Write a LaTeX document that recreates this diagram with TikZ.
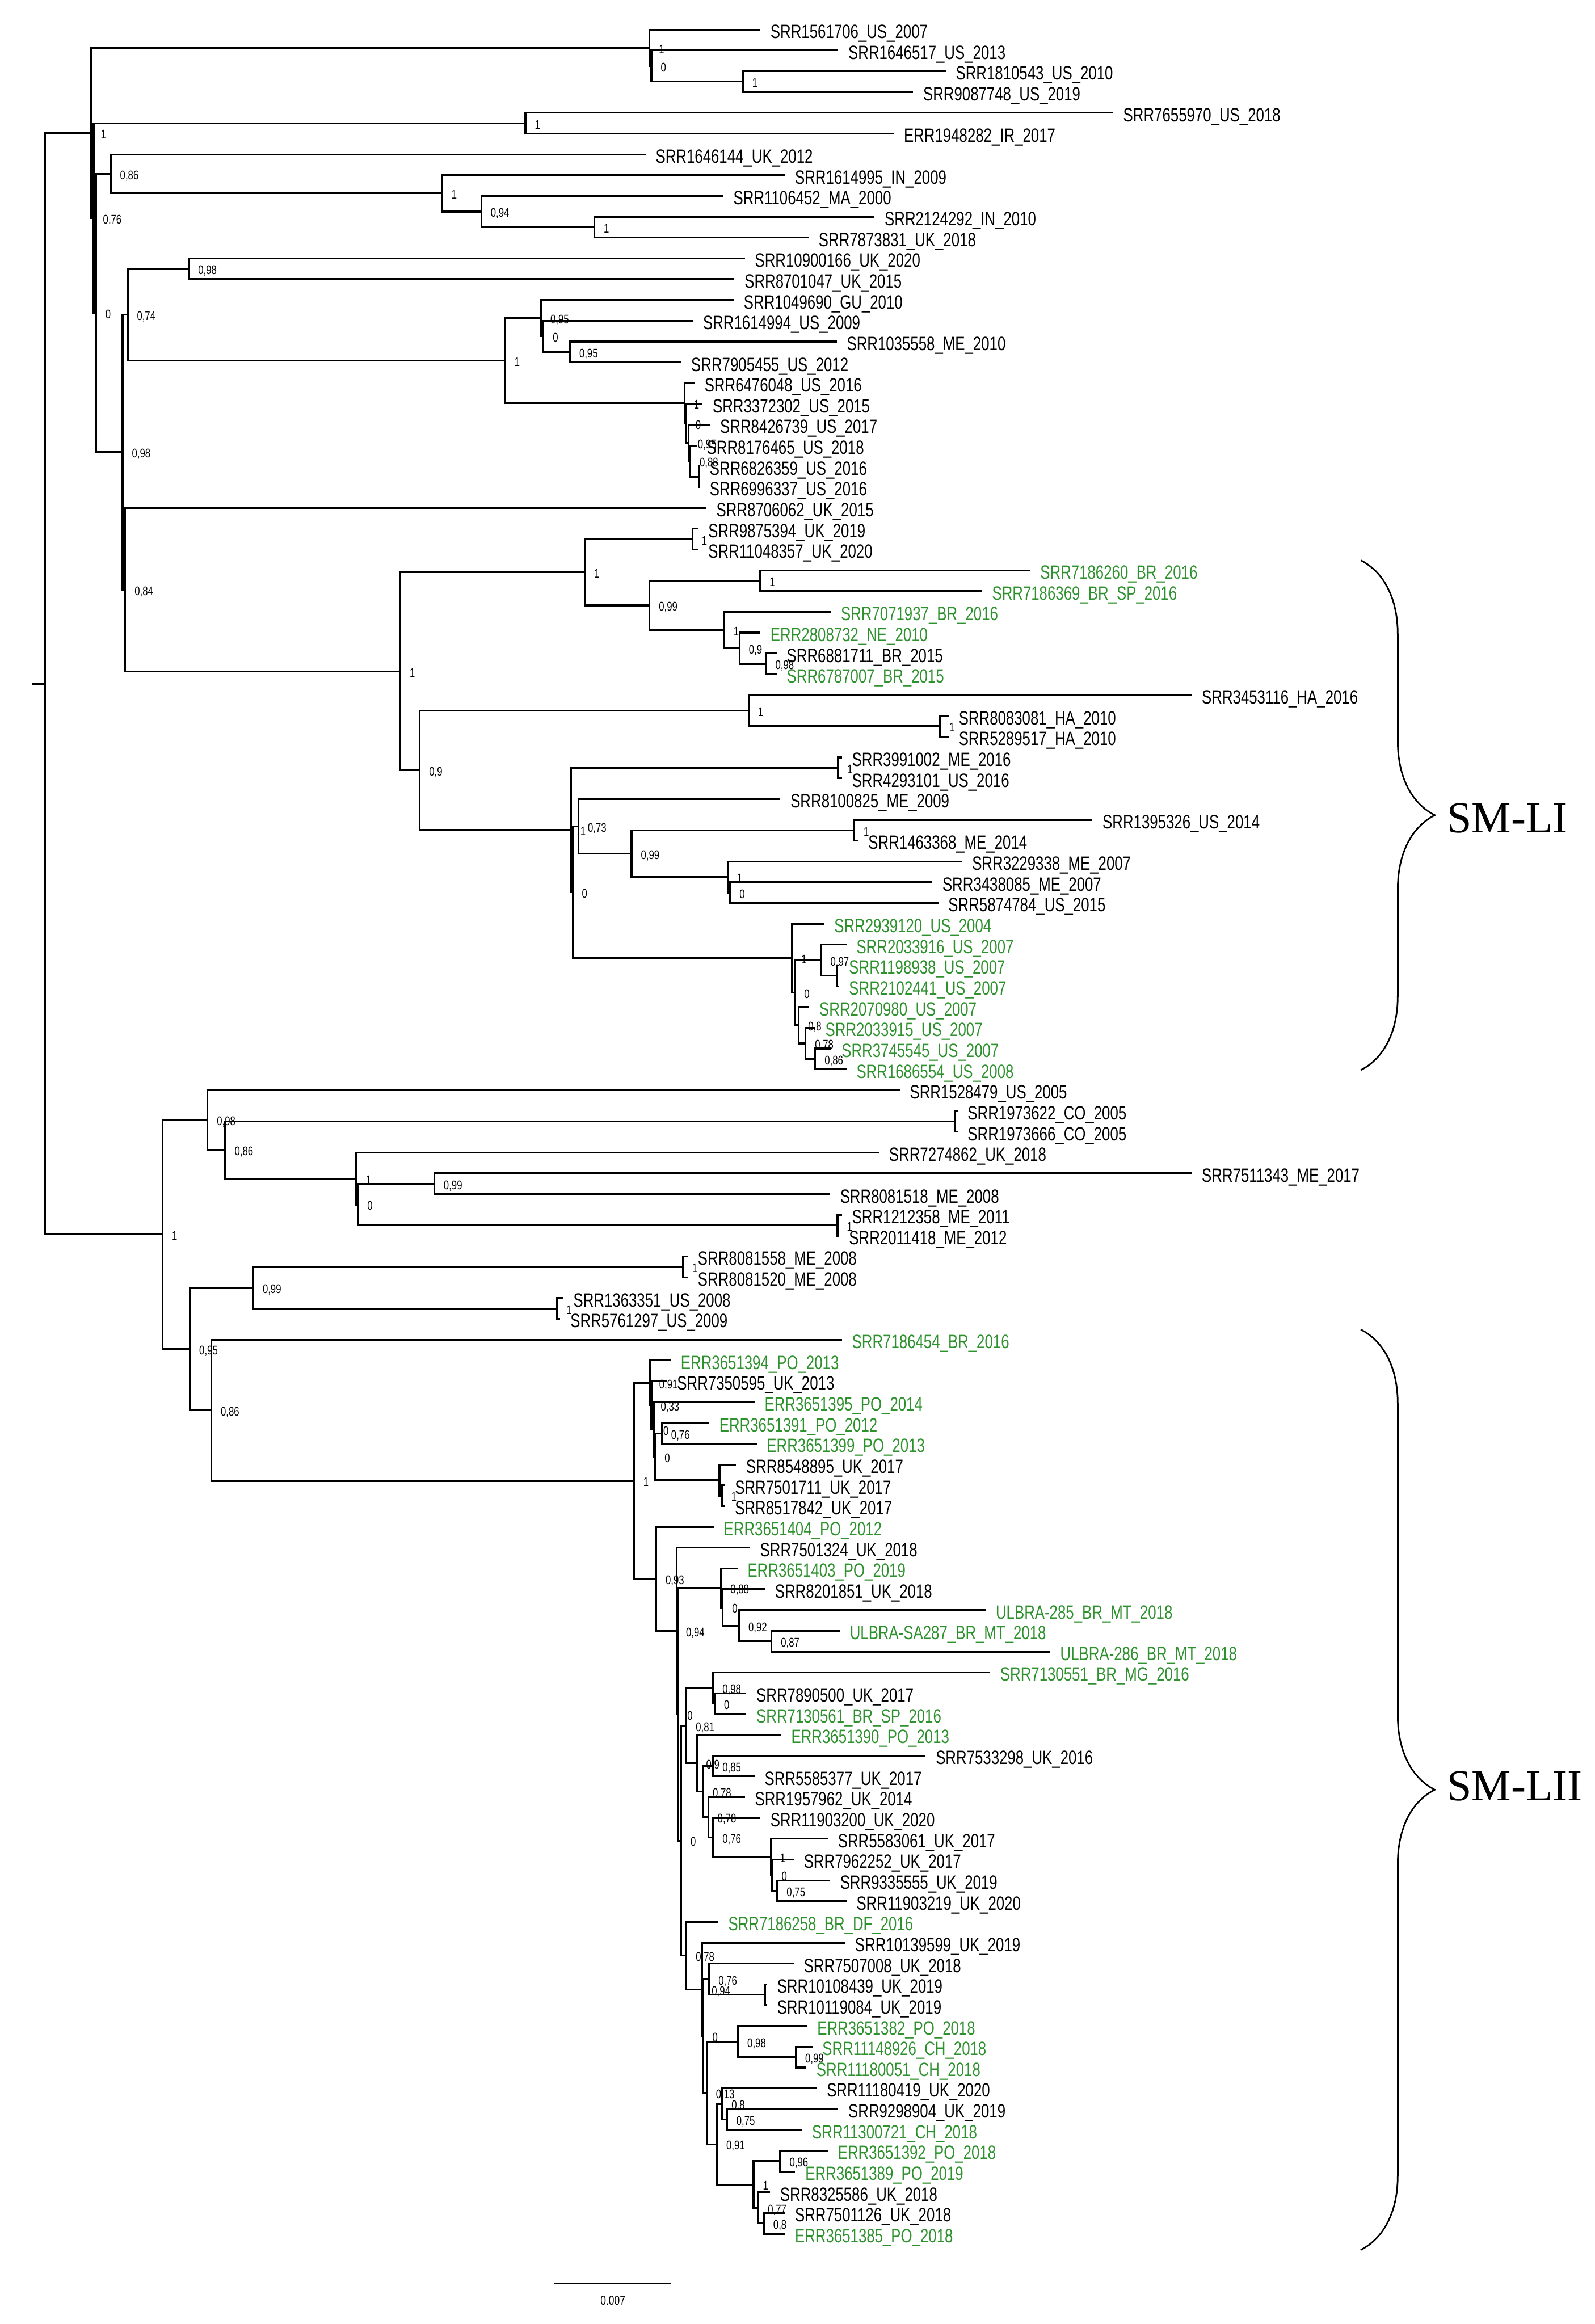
\documentclass[tikz,border=0pt]{standalone}
\usepackage{fontspec}
\setmainfont{Liberation Sans}
\newfontfamily\treefont[FakeStretch=0.76]{Liberation Sans}
\newfontfamily\groupfont{Liberation Serif}
\usetikzlibrary{calc,decorations.pathreplacing}
\definecolor{sgreen}{RGB}{45,145,45}

\tikzset{
  branch/.style={line width=0.7pt},
  leaf/.style={anchor=west, inner xsep=1.3mm, inner ysep=0pt, text height=6.7pt, text depth=0pt,
    font=\treefont\fontsize{7.4}{8}\selectfont},
  support/.style={anchor=west, inner xsep=1.2mm, inner ysep=0pt, text height=4.3pt, text depth=0pt,
    font=\treefont\fontsize{4.8}{5}\selectfont},
  scalelab/.style={inner sep=0pt, font=\treefont\fontsize{5}{6}\selectfont},
  grouplab/.style={anchor=west, inner sep=0pt, font=\groupfont\fontsize{17}{20}\selectfont},
  bracket/.style={line width=0.6pt, decorate, decoration={brace, amplitude=10mm}}
}

% clade: name, x, first child, last child, support value
\newcommand{\clade}[5]{%
  \coordinate (mid) at ($(#3)!.5!(#4)$);
  \coordinate (xref) at (#2,0);
  \coordinate (#1) at (xref |- mid);
  \draw[branch] (#3) -| (#1) |- (#4);
  \node[support] (#1lab) at (#1) {#5};
}

\begin{document}
\begin{tikzpicture}[x=0.2mm, y=-0.2mm]
\useasboundingbox (0,0) rectangle (1076,1568);

\foreach \tip/\col/\txt [count=\i] in {
  513/black/SRR1561706\_US\_2007, 565.5/black/SRR1646517\_US\_2013,
  638/black/SRR1810543\_US\_2010, 616/black/SRR9087748\_US\_2019,
  751/black/SRR7655970\_US\_2018, 603/black/ERR1948282\_IR\_2017,
  435.5/black/SRR1646144\_UK\_2012, 529.5/black/SRR1614995\_IN\_2009,
  488/black/SRR1106452\_MA\_2000, 590/black/SRR2124292\_IN\_2010,
  545.5/black/SRR7873831\_UK\_2018, 502.5/black/SRR10900166\_UK\_2020,
  495.5/black/SRR8701047\_UK\_2015, 495/black/SRR1049690\_GU\_2010,
  467.5/black/SRR1614994\_US\_2009, 564.5/black/SRR1035558\_ME\_2010,
  459.5/black/SRR7905455\_US\_2012, 468.5/black/SRR6476048\_US\_2016,
  474/black/SRR3372302\_US\_2015, 479/black/SRR8426739\_US\_2017,
  470/black/SRR8176465\_US\_2018, 472/black/SRR6826359\_US\_2016,
  472/black/SRR6996337\_US\_2016, 476.5/black/SRR8706062\_UK\_2015,
  471/black/SRR9875394\_UK\_2019, 471/black/SRR11048357\_UK\_2020,
  695/sgreen/SRR7186260\_BR\_2016, 662.5/sgreen/SRR7186369\_BR\_SP\_2016,
  560.5/sgreen/SRR7071937\_BR\_2016, 513/sgreen/ERR2808732\_NE\_2010,
  524/black/SRR6881711\_BR\_2015, 524/sgreen/SRR6787007\_BR\_2015,
  804/black/SRR3453116\_HA\_2016, 640/black/SRR8083081\_HA\_2010,
  640/black/SRR5289517\_HA\_2010, 568/black/SRR3991002\_ME\_2016,
  568/black/SRR4293101\_US\_2016, 526.5/black/SRR8100825\_ME\_2009,
  737/black/SRR1395326\_US\_2014, 579/black/SRR1463368\_ME\_2014,
  649/black/SRR3229338\_ME\_2007, 629/black/SRR3438085\_ME\_2007,
  633/black/SRR5874784\_US\_2015, 556/sgreen/SRR2939120\_US\_2004,
  571/sgreen/SRR2033916\_US\_2007, 566/sgreen/SRR1198938\_US\_2007,
  566/sgreen/SRR2102441\_US\_2007, 546/sgreen/SRR2070980\_US\_2007,
  550/sgreen/SRR2033915\_US\_2007, 561/sgreen/SRR3745545\_US\_2007,
  571/sgreen/SRR1686554\_US\_2008, 607/black/SRR1528479\_US\_2005,
  646/black/SRR1973622\_CO\_2005, 646/black/SRR1973666\_CO\_2005,
  593/black/SRR7274862\_UK\_2018, 804/black/SRR7511343\_ME\_2017,
  560/black/SRR8081518\_ME\_2008, 568/black/SRR1212358\_ME\_2011,
  566/black/SRR2011418\_ME\_2012, 464/black/SRR8081558\_ME\_2008,
  464/black/SRR8081520\_ME\_2008, 380/black/SRR1363351\_US\_2008,
  378/black/SRR5761297\_US\_2009, 568/sgreen/SRR7186454\_BR\_2016,
  452.5/sgreen/ERR3651394\_PO\_2013, 450/black/SRR7350595\_UK\_2013,
  509/sgreen/ERR3651395\_PO\_2014, 478.5/sgreen/ERR3651391\_PO\_2012,
  510.5/sgreen/ERR3651399\_PO\_2013, 496.5/black/SRR8548895\_UK\_2017,
  489/black/SRR7501711\_UK\_2017, 489/black/SRR8517842\_UK\_2017,
  481.5/sgreen/ERR3651404\_PO\_2012, 506/black/SRR7501324\_UK\_2018,
  497.5/sgreen/ERR3651403\_PO\_2019, 516/black/SRR8201851\_UK\_2018,
  665/sgreen/ULBRA-285\_BR\_MT\_2018, 566.5/sgreen/ULBRA-SA287\_BR\_MT\_2018,
  708.5/sgreen/ULBRA-286\_BR\_MT\_2018, 668/sgreen/SRR7130551\_BR\_MG\_2016,
  503.5/black/SRR7890500\_UK\_2017, 503.5/sgreen/SRR7130561\_BR\_SP\_2016,
  527/sgreen/ERR3651390\_PO\_2013, 624.5/black/SRR7533298\_UK\_2016,
  509/black/SRR5585377\_UK\_2017, 502.5/black/SRR1957962\_UK\_2014,
  513/black/SRR11903200\_UK\_2020, 558.5/black/SRR5583061\_UK\_2017,
  535.5/black/SRR7962252\_UK\_2017, 560/black/SRR9335555\_UK\_2019,
  571/black/SRR11903219\_UK\_2020, 484.5/sgreen/SRR7186258\_BR\_DF\_2016,
  570/black/SRR10139599\_UK\_2019, 535.5/black/SRR7507008\_UK\_2018,
  517.5/black/SRR10108439\_UK\_2019, 517.5/black/SRR10119084\_UK\_2019,
  544.5/sgreen/ERR3651382\_PO\_2018, 548/sgreen/SRR11148926\_CH\_2018,
  544/sgreen/SRR11180051\_CH\_2018, 551/black/SRR11180419\_UK\_2020,
  565.5/black/SRR9298904\_UK\_2019, 541/sgreen/SRR11300721\_CH\_2018,
  558.5/sgreen/ERR3651392\_PO\_2018, 536.5/sgreen/ERR3651389\_PO\_2019,
  519.5/black/SRR8325586\_UK\_2018, 529.5/black/SRR7501126\_UK\_2018,
  529.5/sgreen/ERR3651385\_PO\_2018}
  \node[leaf, text=\col] (l\i) at (\tip, {20+(\i-1)*14.03}) {\txt};

% upper part
\clade{P3}{501.2}{l3.west}{l4.west}{1}
\clade{P2}{439.5}{l2.west}{P3}{0}
\clade{P1}{438.2}{l1.west}{P2}{1}
\clade{Q}{354.5}{l5.west}{l6.west}{1}
\clade{R4}{401}{l10.west}{l11.west}{1}
\clade{R3}{324.7}{l9.west}{R4}{0,94}
\clade{R2}{298.3}{l8.west}{R3}{1}
\clade{R}{74.7}{l7.west}{R2}{0,86}
\clade{T}{127.4}{l12.west}{l13.west}{0,98}
\clade{V1c}{384.5}{l16.west}{l17.west}{0,95}
\clade{V1b}{366.6}{l15.west}{V1c}{0}
\clade{V1}{365}{l14.west}{V1b}{0,95}
\clade{V6}{471.6}{l22.west}{l23.west}{}
\clade{V5}{465.7}{l21.west}{V6}{0,88}
\clade{V4}{464.5}{l20.west}{V5}{0,95}
\clade{V3}{462.9}{l19.west}{V4}{0}
\clade{V2}{461.8}{l18.west}{V3}{1}
\clade{V}{340.8}{V1}{V2}{1}
\clade{U}{86.1}{T}{V}{0,74}
\clade{X1a}{467.1}{l25.west}{l26.west}{1}
\clade{X1c}{512.9}{l27.west}{l28.west}{1}
\clade{X1f}{516.8}{l31.west}{l32.west}{0,98}
\clade{X1e}{498.9}{l30.west}{X1f}{0,9}
\clade{X1d}{488.6}{l29.west}{X1e}{1}
\clade{X1b}{438.2}{X1c}{X1d}{0,99}
\clade{X1}{394.6}{X1a}{X1b}{1}
\clade{X2c}{634}{l34.west}{l35.west}{1}
\clade{X2a}{505}{l33.west}{X2c}{1}
\clade{X2d}{565.3}{l36.west}{l37.west}{1}
\clade{X2g}{576.3}{l39.west}{l40.west}{1}
\clade{X2i}{492.6}{l42.west}{l43.west}{0}
\clade{X2h}{490.8}{l41.west}{X2i}{1}
\clade{X2f}{426.1}{X2g}{X2h}{0,99}
\clade{X2e}{390.3}{l38.west}{X2f}{0,73}
\clade{X2o}{564.6}{l46.west}{l47.west}{}
\clade{X2m}{553.9}{l45.west}{X2o}{0,97}
\clade{X2r}{550}{l50.west}{l51.west}{0,86}
\clade{X2q}{543.5}{l49.west}{X2r}{0,78}
\clade{X2n}{538.9}{l48.west}{X2q}{0,8}
\clade{X2l}{536.2}{X2m}{X2n}{0}
\clade{X2k}{534.3}{l44.west}{X2l}{1}
\clade{X2j}{386.3}{X2e}{X2k}{0}
\clade{X2b}{385.2}{X2d}{X2j}{1}
\clade{X2}{283.2}{X2a}{X2b}{0,9}
\clade{X}{270.1}{X1}{X2}{1}
\clade{W}{84.5}{l24.west}{X}{0,84}
\clade{Y}{82.7}{U}{W}{0,98}
\clade{B2}{64.8}{R}{Y}{0}
\clade{B1}{63.2}{Q}{B2}{0,76}
\clade{A}{61.6}{P1}{B1}{1}

% lower part
\clade{Ea}{644}{l53.west}{l54.west}{}
\clade{H}{293}{l56.west}{l57.west}{0,99}
\clade{I}{565}{l58.west}{l59.west}{1}
\clade{Fg}{241.5}{H}{I}{0}
\clade{F}{240.4}{l55.west}{Fg}{1}
\clade{E}{152}{Ea}{F}{0,86}
\clade{D}{140}{l52.west}{E}{0,98}
\clade{Ce}{460.6}{l60.west}{l61.west}{1}
\clade{Cf}{375.7}{l62.west}{l63.west}{1}
\clade{Cc}{170.9}{Ce}{Cf}{0,99}
\clade{Cga}{446.5}{l68.west}{l69.west}{0,76}
\clade{Cgc}{487}{l71.west}{l72.west}{1}
\clade{Cgb}{485.4}{l70.west}{Cgc}{}
\clade{Cg3}{442.1}{Cga}{Cgb}{0}
\clade{Cg2}{441.2}{l67.west}{Cg3}{0}
\clade{Cg1}{439.5}{l66.west}{Cg2}{0,33}
\clade{Cg}{438.4}{l65.west}{Cg1}{0,91}
\clade{Cl}{520.5}{l78.west}{l79.west}{0,87}
\clade{Cm}{498.6}{l77.west}{Cl}{0,92}
\clade{Cn}{487.6}{l76.west}{Cm}{0}
\clade{Cj}{486.5}{l75.west}{Cn}{0,88}
\clade{Ck2}{482.2}{l81.west}{l82.west}{0}
\clade{Ck}{481.1}{l80.west}{Ck2}{0,98}
\clade{Cs}{481.1}{l84.west}{l85.west}{0,85}
\clade{Cx}{524.4}{l90.west}{l91.west}{0,75}
\clade{Cw}{521}{l89.west}{Cx}{0}
\clade{Cv}{520}{l88.west}{Cw}{1}
\clade{Cy}{481.1}{l87.west}{Cv}{0,76}
\clade{Cz}{477.8}{l86.west}{Cy}{0,78}
\clade{Ct}{474.5}{Cs}{Cz}{0,78}
\clade{Cu}{470.1}{l83.west}{Ct}{0,9}
\clade{Cr}{463.1}{Ck}{Cu}{0,81}
\clade{D1}{516}{l95.west}{l96.west}{}
\clade{D2}{478.4}{l94.west}{D1}{0,76}
\clade{D5}{536.9}{l98.west}{l99.west}{0,99}
\clade{D4}{497.9}{l97.west}{D5}{0,98}
\clade{D7}{490.5}{l101.west}{l102.west}{0,75}
\clade{D6}{487.2}{l100.west}{D7}{0,8}
\clade{D9}{526.4}{l103.west}{l104.west}{0,96}
\clade{D11}{515.4}{l106.west}{l107.west}{0,8}
\clade{D10}{511.7}{l105.west}{D11}{0,77}
\clade{D8}{508.4}{D9}{D10}{1}
\clade{D12}{483.7}{D6}{D8}{0,91}
\clade{E13}{476.7}{D4}{D12}{0,13}
\clade{F13}{474.3}{D2}{E13}{0}
\clade{D3}{473.8}{l93.west}{F13}{0,94}
\clade{G13}{463.1}{l92.west}{D3}{0,78}
\clade{H1}{459.6}{Cr}{G13}{0}
\clade{Co}{457.4}{Cj}{H1}{0}
\clade{Ci}{456.5}{l74.west}{Co}{0,94}
\clade{Ch}{442.7}{l73.west}{Ci}{0,93}
\clade{Ce2}{427.7}{Cg}{Ch}{1}
\clade{Cd}{142.6}{l64.west}{Ce2}{0,86}
\clade{Cb}{128.1}{Cc}{Cd}{0,95}
\clade{C}{109.7}{D}{Cb}{1}

\clade{root}{30.4}{A}{C}{}
\coordinate (rootstub) at ($(root)+(-8.4,0)$);
\draw[branch] (rootstub) -- (root);

% groups
\coordinate (b1top) at (918,378);
\coordinate (b1bot) at (918,722);
\draw[bracket] (b1top) -- (b1bot);
\node[grouplab] (smli) at (976,552) {SM-LI};
\coordinate (b2top) at (918,897);
\coordinate (b2bot) at (918,1518);
\draw[bracket] (b2top) -- (b2bot);
\node[grouplab] (smlii) at (976,1205) {SM-LII};

% scale
\coordinate (sb1) at (374,1540.7);
\coordinate (sb2) at (453,1540.7);
\draw[branch] (sb1) -- (sb2);
\node[scalelab] (sblab) at ($(sb1)!.5!(sb2)+(0,11.5)$) {0.007};
\end{tikzpicture}
\end{document}
